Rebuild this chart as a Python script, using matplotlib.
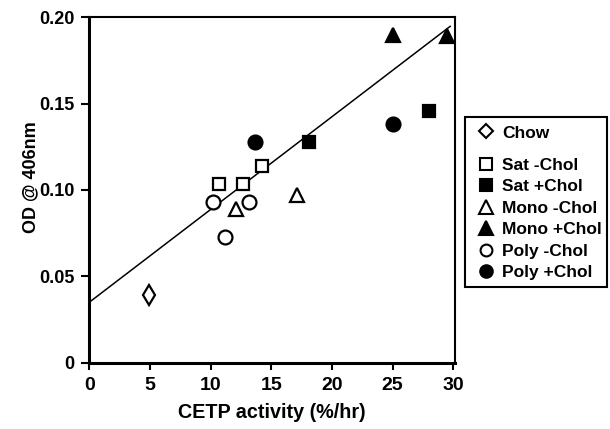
import matplotlib
matplotlib.use("Agg")
import matplotlib.pyplot as plt
from matplotlib.lines import Line2D
from matplotlib.patches import Rectangle
import numpy as np

plt.rcParams['font.family'] = ['Liberation Sans', 'DejaVu Sans']
plt.rcParams['font.weight'] = 'bold'

# Data
chow_x = [4.9]
chow_y = [0.039]
sat_minus_x = [10.7, 12.7, 14.2]
sat_minus_y = [0.1035, 0.1035, 0.114]
sat_plus_x = [18.1, 28.0]
sat_plus_y = [0.128, 0.1455]
mono_minus_x = [12.1, 17.1]
mono_minus_y = [0.089, 0.097]
mono_plus_x = [25.0, 29.5]
mono_plus_y = [0.190, 0.189]
poly_minus_x = [10.2, 11.2, 13.2]
poly_minus_y = [0.093, 0.0725, 0.093]
poly_plus_x = [13.7, 25.0]
poly_plus_y = [0.128, 0.138]
fit_x = [0.0, 29.75]
fit_intercept = 0.035
fit_slope = 0.00537

xticks = [0, 5, 10, 15, 20, 25, 30]
yticks = [0, 0.05, 0.10, 0.15, 0.20]
ytick_labels = ['0', '0.05', '0.10', '0.15', '0.20']
chow_label = ['Chow']
group_labels = ['Sat -Chol', 'Sat +Chol', 'Mono -Chol', 'Mono +Chol', 'Poly -Chol', 'Poly +Chol']

W, H = 610, 429
fig = plt.figure(figsize=(W/100, H/100), dpi=100)
ax = fig.add_axes([89.3/W, 1-362.7/H, (455-89.3)/W, (362.7-17.3)/H])

fx = np.array(fit_x)
ax.plot(fx, fit_intercept + fit_slope*fx, color='black', lw=1.1, zorder=2)

mew = 1.6
kw = dict(linestyle='none', color='black', markeredgewidth=mew, zorder=3)
ax.plot(chow_x, chow_y, marker='d', markersize=10, markerfacecolor='white', **kw)
ax.plot(sat_minus_x, sat_minus_y, marker='s', markersize=9.3, markerfacecolor='white', **kw)
ax.plot(sat_plus_x, sat_plus_y, marker='s', markersize=9.3, markerfacecolor='black', **kw)
ax.plot(mono_minus_x, mono_minus_y, marker='^', markersize=10.5, markerfacecolor='white', **kw)
ax.plot(mono_plus_x, mono_plus_y, marker='^', markersize=10.5, markerfacecolor='black', **kw)
ax.plot(poly_minus_x, poly_minus_y, marker='o', markersize=10, markerfacecolor='white', **kw)
ax.plot(poly_plus_x, poly_plus_y, marker='o', markersize=10, markerfacecolor='black', **kw)

ax.set_xlim(0, 30.15)
ax.set_ylim(0, 0.2)
ax.set_xticks(xticks)
ax.set_yticks(yticks)
ax.set_yticklabels(ytick_labels)
ax.tick_params(axis='x', direction='out', length=5.3, width=1.5, labelsize=14, pad=5)
ax.tick_params(axis='y', direction='out', length=5.8, width=1.5, labelsize=13, pad=4.8)
for lab in ax.get_xticklabels() + ax.get_yticklabels():
    lab.set_fontweight('bold')
ax.spines['left'].set_linewidth(2.2)
ax.spines['bottom'].set_linewidth(2.2)
ax.spines['top'].set_linewidth(1.5)
ax.spines['right'].set_linewidth(1.5)

ax.set_xlabel('CETP activity (%/hr)', fontsize=14.2, fontweight='bold', labelpad=6.5)
ax.set_ylabel('OD @ 406nm', fontsize=13, fontweight='bold')
ax.yaxis.set_label_coords(-0.1375, 0.5376)

# Legend frame
fig.patches.append(Rectangle((465/W, 1-287/H), (607-465)/W, (287-117)/H,
                             transform=fig.transFigure, fill=False,
                             edgecolor='black', linewidth=1.5, zorder=5))

lkw = dict(linestyle='none', color='black', markeredgewidth=1.5)
common = dict(borderaxespad=0, frameon=False, prop={'size': 12.5, 'weight': 'bold'},
              handlelength=1.6, handletextpad=0.13, borderpad=0.4)

chow_handles = [Line2D([], [], marker='D', markersize=7.5, markerfacecolor='white', **lkw)]
leg1 = fig.legend(chow_handles, chow_label, loc='center left',
                  bbox_to_anchor=(465/W, 1-133/H), **common)

group_handles = [
    Line2D([], [], marker='s', markersize=9, markerfacecolor='white', **lkw),
    Line2D([], [], marker='s', markersize=9, markerfacecolor='black', **lkw),
    Line2D([], [], marker='^', markersize=9.5, markerfacecolor='white', **lkw),
    Line2D([], [], marker='^', markersize=9.5, markerfacecolor='black', **lkw),
    Line2D([], [], marker='o', markersize=8.5, markerfacecolor='white', **lkw),
    Line2D([], [], marker='o', markersize=9, markerfacecolor='black', **lkw),
]
leg2 = fig.legend(group_handles, group_labels, loc='lower left',
                  bbox_to_anchor=(465/W, 1-287/H), labelspacing=0.36, **common)

fig.savefig('out.png', dpi=100)
